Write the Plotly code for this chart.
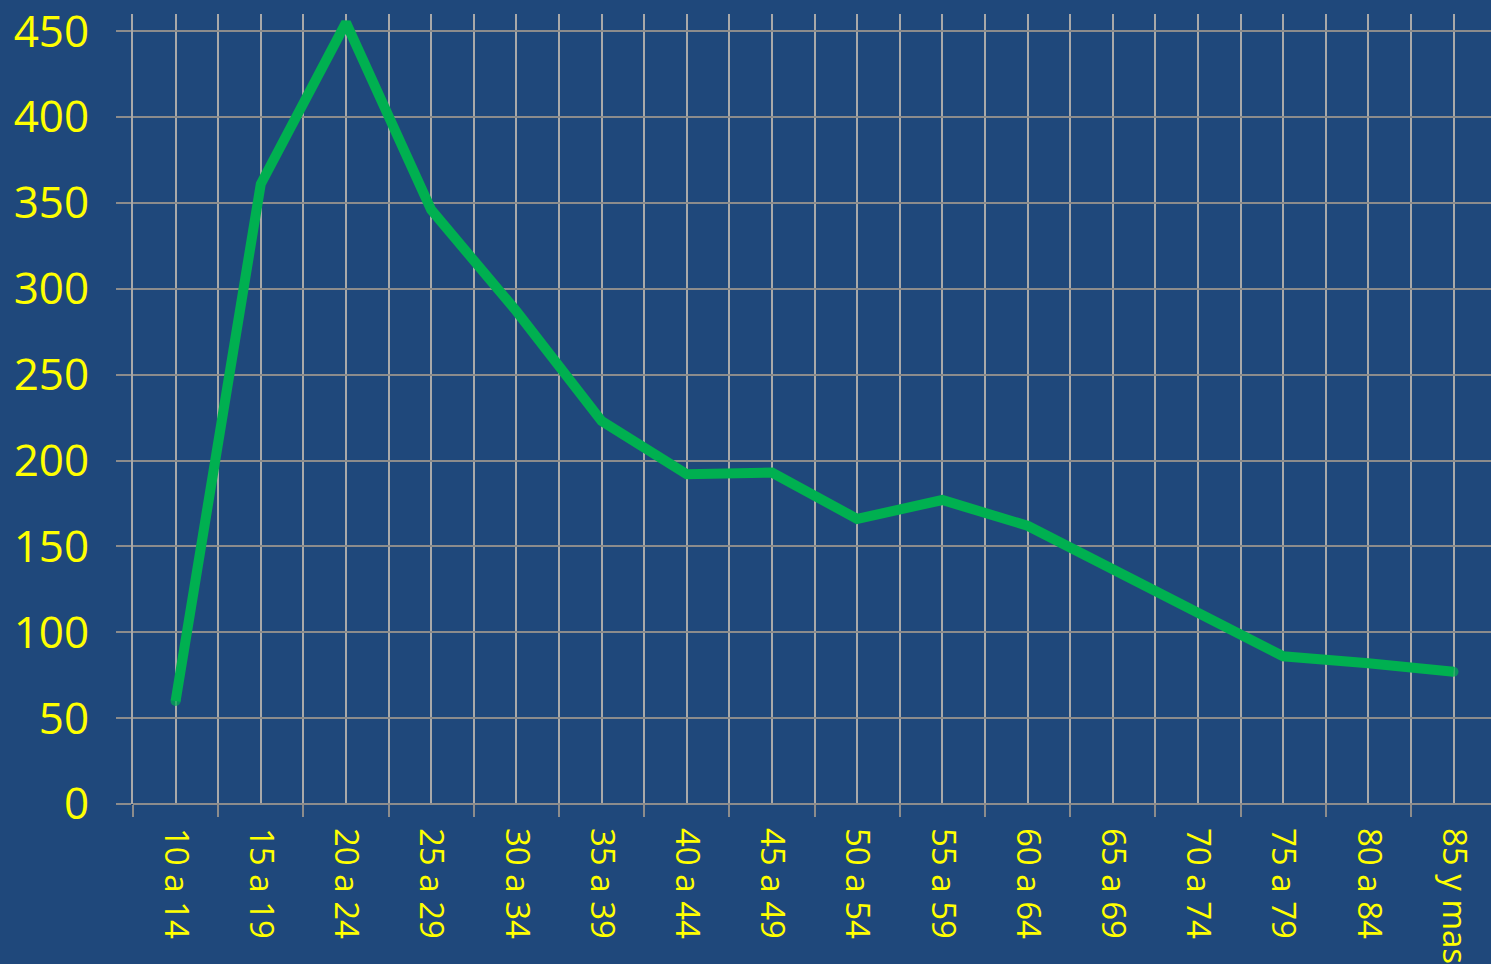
import plotly.graph_objects as go

categories = ["10 a 14", "15 a 19", "20 a 24", "25 a 29", "30 a 34", "35 a 39",
              "40 a 44", "45 a 49", "50 a 54", "55 a 59", "60 a 64", "65 a 69",
              "70 a 74", "75 a 79", "80 a 84", "85 y mas"]
values = [60, 361, 455, 346, 287, 223, 192, 193, 166, 177, 162, 137, 111, 86, 82, 77]
y_ticks = [0, 50, 100, 150, 200, 250, 300, 350, 400, 450]

positions = list(range(len(categories)))

BG = "#1F487B"
GRID_H = "#8C8C8C"
GRID_V = "#A9A9A9"
YELLOW = "#FFFF00"
GREEN = "#00B050"
LINE_W = 10

# round caps at the two ends of the line
end_sizes = [LINE_W if i in (0, len(values) - 1) else 0 for i in range(len(values))]

fig = go.Figure()
fig.add_trace(go.Scatter(
    x=positions, y=values, mode="lines+markers",
    line=dict(color=GREEN, width=LINE_W),
    marker=dict(color=GREEN, size=end_sizes, line=dict(width=0)),
    hoverinfo="skip", showlegend=False,
))

fig.update_layout(
    width=1491, height=964,
    paper_bgcolor=BG, plot_bgcolor=BG,
    margin=dict(l=133, r=0, t=8, b=158),
    font=dict(family="Open Sans", color=YELLOW),
    showlegend=False,
)

fig.update_xaxes(
    range=[-0.5, 15.44],
    tickmode="array", tickvals=positions, ticktext=categories,
    tickangle=90,
    tickfont=dict(size=33, color=YELLOW, family="Open Sans"),
    ticks="", showgrid=True, gridcolor=GRID_V, gridwidth=2,
    ticklabelstandoff=23,
    ticklabeloverflow="allow",
    minor=dict(tick0=-0.5, dtick=1, showgrid=True, gridcolor=GRID_V, gridwidth=2,
               ticks="outside", ticklen=12, tickcolor=GRID_H, tickwidth=2),
    zeroline=False, showline=False,
)

fig.update_yaxes(
    range=[0, 460],
    tickmode="array", tickvals=y_ticks,
    tickfont=dict(size=44, color=YELLOW, family="Open Sans"),
    ticks="outside", ticklen=15, tickcolor=GRID_H, tickwidth=2,
    ticklabelstandoff=18,
    ticklabeloverflow="allow",
    showgrid=True, gridcolor=GRID_H, gridwidth=2,
    zeroline=True, zerolinecolor=GRID_H, zerolinewidth=2,
    showline=True, linecolor=GRID_V, linewidth=2,
)

fig.write_html(
    "out.html",
    config={"displayModeBar": False},
    post_script="document.body.style.margin='0';document.body.style.padding='0';"
                "document.body.style.background='" + BG + "';",
)
